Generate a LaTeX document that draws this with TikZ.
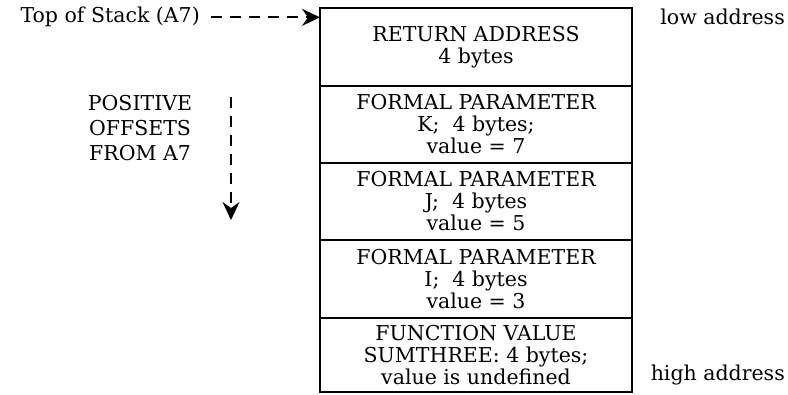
\documentclass[tikz,border=0pt]{standalone}
\usepackage{fontspec}
\setmainfont{DejaVu Serif}
\usetikzlibrary{arrows.meta, positioning}

\begin{document}
\begin{tikzpicture}[
    x=1pt, y=-1pt,
    cell/.style={rectangle, draw, line width=1.8pt, outer sep=0pt, inner sep=2pt, minimum width=312pt, align=center, font=\fontsize{20.5}{22}\selectfont},
    lbl/.style={font=\fontsize{20.5}{25}\selectfont, inner sep=0pt, align=center},
    ptr/.style={-{Stealth[length=18pt, width=17pt, inset=6pt]}, line width=2pt, dash pattern=on 11pt off 8pt}
]
\useasboundingbox (0,0) rectangle (788,395);

% --- Pilha (coluna central) ---
\node[cell, minimum height=78pt, anchor=north] (retaddr) at (476,8)
    {RETURN ADDRESS\\4 bytes};

\node[cell, minimum height=77pt, below=0pt of retaddr] (parK)
    {FORMAL PARAMETER\\K;\ \ 4 bytes;\\value = 7};

\node[cell, minimum height=77pt, below=0pt of parK] (parJ)
    {FORMAL PARAMETER\\J;\ \ 4 bytes\\value = 5};

\node[cell, minimum height=78pt, below=0pt of parJ] (parI)
    {FORMAL PARAMETER\\I;\ \ 4 bytes\\value = 3};

\node[cell, minimum height=74pt, below=0pt of parI] (funcval)
    {FUNCTION VALUE\\SUMTHREE: 4 bytes;\\value is undefined};

% --- Esquerda: topo da pilha e deslocamentos ---
\node[lbl, anchor=base east] (tos) at (200,23) {Top of Stack (A7)};

\node[lbl] (offs) at (140,128) {POSITIVE\\OFFSETS\\FROM A7};
\coordinate (offtop) at (231,97);
\coordinate (offbot) at (231,220);

% --- Direita: enderecos ---
\node[lbl, anchor=base east] (lowad) at (785,25) {low address};
\node[lbl, anchor=base east] (highad) at (785,381) {high address};

% === SETAS ===
\draw[ptr, shorten <=11pt] (tos.east) -- (tos.east -| retaddr.west);
\draw[ptr] (offtop) -- (offbot);

\end{tikzpicture}
\end{document}
